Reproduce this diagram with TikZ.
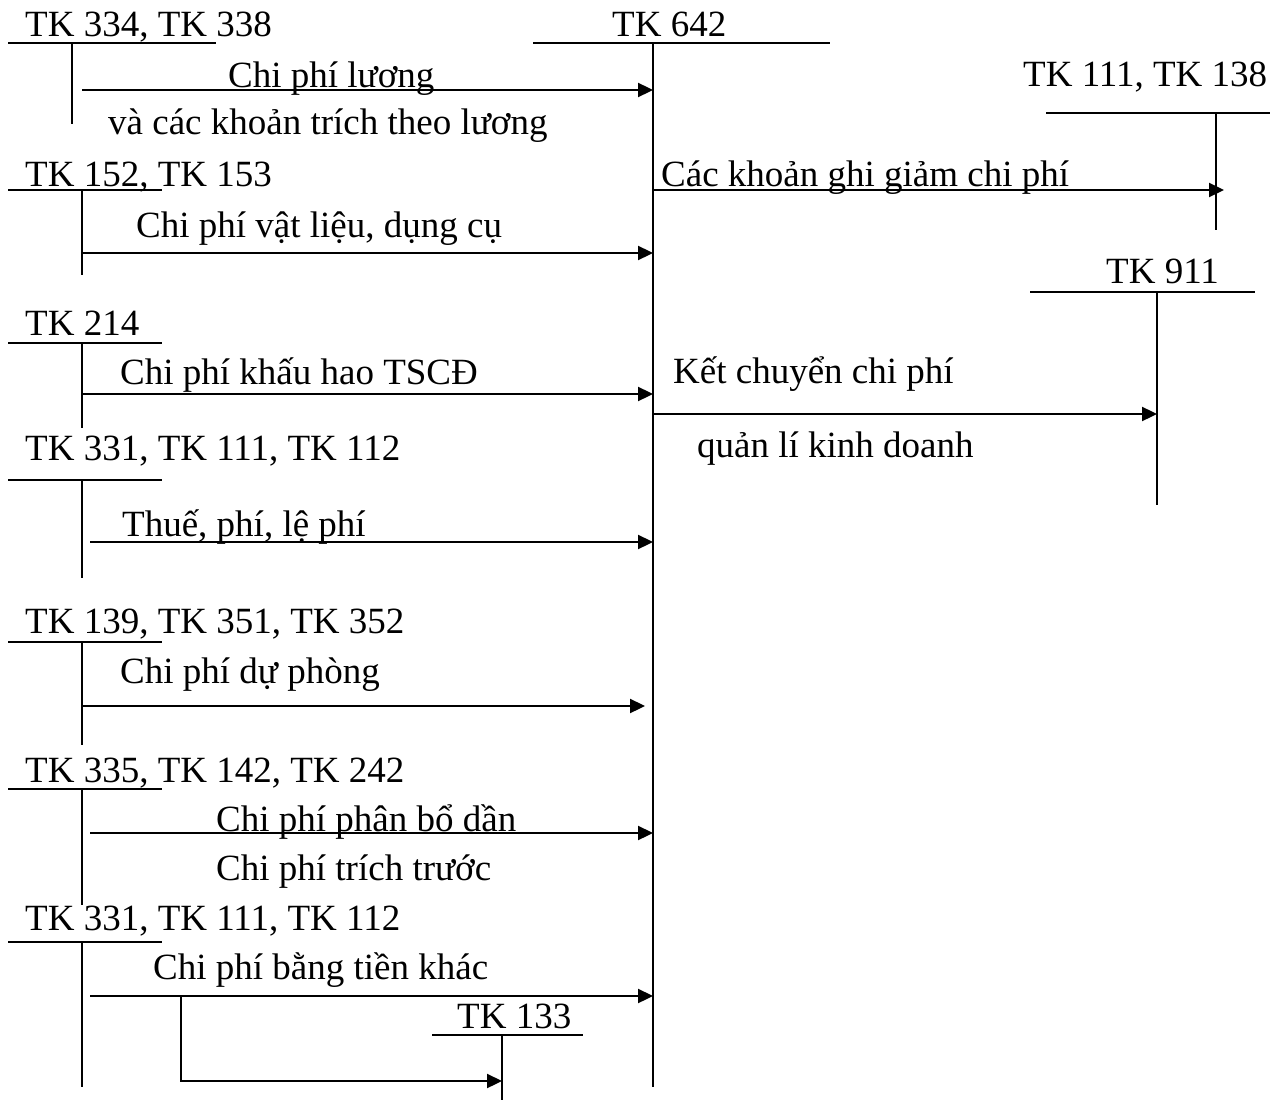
\documentclass[tikz,border=0pt]{standalone}
\usepackage{fontspec}
\setmainfont{Liberation Serif}
\usetikzlibrary{arrows.meta}
\begin{document}
\begin{tikzpicture}[x=1pt,y=-1pt,
  lbl/.style={anchor=base west,inner sep=0pt,font=\fontsize{37}{44}\selectfont},
  tline/.style={line width=1.8pt},
  flow/.style={line width=2.3pt,-{Triangle[length=15pt,width=14pt]}}]
\useasboundingbox (0,0) rectangle (1285,1102);

% ---- main account TK 642
\node[lbl] (t642) at (612,37) {TK 642};
\coordinate (m0) at (653,43);
\coordinate (m1) at (653,1087);
\draw[tline] (533,43) -- (830,43);
\draw[tline] (m0) -- (m1);

% ---- TK 334, TK 338
\node[lbl] (t334) at (25,37) {TK 334, TK 338};
\draw[tline] (8,43) -- (216,43);
\draw[tline] (72,43) -- (72,124);
\coordinate (a1) at (82,90);
\draw[flow] (a1) -- (a1 -| m0);
\node[lbl] (l1) at (228,88) {Chi phí lương};
\node[lbl] (l1b) at (108,135) {và các khoản trích theo lương};

% ---- TK 152, TK 153
\node[lbl] (t152) at (25,187) {TK 152, TK 153};
\draw[tline] (8,190) -- (162,190);
\draw[tline] (82,190) -- (82,275);
\coordinate (a2) at (82,253);
\draw[flow] (a2) -- (a2 -| m0);
\node[lbl] (l2) at (136,237) {Chi phí vật liệu, dụng cụ};

% ---- TK 214
\node[lbl] (t214) at (25,335) {TK 214};
\draw[tline] (8,343) -- (162,343);
\draw[tline] (82,343) -- (82,428);
\coordinate (a3) at (82,394);
\draw[flow] (a3) -- (a3 -| m0);
\node[lbl] (l3) at (120,384) {Chi phí khấu hao TSCĐ};

% ---- TK 331, TK 111, TK 112 (1)
\node[lbl] (t331a) at (25,460) {TK 331, TK 111, TK 112};
\draw[tline] (8,480) -- (162,480);
\draw[tline] (82,480) -- (82,578);
\coordinate (a4) at (90,542);
\draw[flow] (a4) -- (a4 -| m0);
\node[lbl] (l4) at (122,536) {Thuế, phí, lệ phí};

% ---- TK 139, TK 351, TK 352
\node[lbl] (t139) at (25,633) {TK 139, TK 351, TK 352};
\draw[tline] (8,642) -- (162,642);
\draw[tline] (82,642) -- (82,745);
\coordinate (a5) at (82,706);
\coordinate (a5e) at (645,706);
\draw[flow] (a5) -- (a5e);
\node[lbl] (l5) at (120,683) {Chi phí dự phòng};

% ---- TK 335, TK 142, TK 242
\node[lbl] (t335) at (25,782) {TK 335, TK 142, TK 242};
\draw[tline] (8,789) -- (162,789);
\draw[tline] (82,789) -- (82,905);
\coordinate (a6) at (90,833);
\draw[flow] (a6) -- (a6 -| m0);
\node[lbl] (l6) at (216,831) {Chi phí phân bổ dần};
\node[lbl] (l6b) at (216,880) {Chi phí trích trước};

% ---- TK 331, TK 111, TK 112 (2)
\node[lbl] (t331b) at (25,930) {TK 331, TK 111, TK 112};
\draw[tline] (8,942) -- (162,942);
\draw[tline] (82,942) -- (82,1087);
\coordinate (a7) at (90,996);
\draw[flow] (a7) -- (a7 -| m0);
\node[lbl] (l7) at (153,979) {Chi phí bằng tiền khác};

% ---- TK 133
\node[lbl] (t133) at (457,1028) {TK 133};
\draw[tline] (432,1035) -- (583,1035);
\coordinate (v133) at (502,1035);
\draw[tline] (v133) -- (502,1100);
\coordinate (b0) at (181,996);
\draw[flow] (b0) -- (181,1081) -- (181,1081 -| v133);

% ---- TK 111, TK 138
\node[lbl] (t111) at (1023,87) {TK 111, TK 138};
\draw[tline] (1046,113) -- (1270,113);
\draw[tline] (1216,113) -- (1216,230);
\coordinate (r1) at (653,190);
\coordinate (r1e) at (1224,190);
\draw[flow] (r1) -- (r1e);
\node[lbl] (l8) at (661,187) {Các khoản ghi giảm chi phí};

% ---- TK 911
\node[lbl] (t911) at (1106,283) {TK 911};
\draw[tline] (1030,292) -- (1255,292);
\coordinate (v911) at (1157,292);
\draw[tline] (v911) -- (1157,505);
\coordinate (r2) at (653,414);
\draw[flow] (r2) -- (r2 -| v911);
\node[lbl] (l9) at (673,383) {Kết chuyển chi phí};
\node[lbl] (l9b) at (697,457) {quản lí kinh doanh};
\end{tikzpicture}
\end{document}
